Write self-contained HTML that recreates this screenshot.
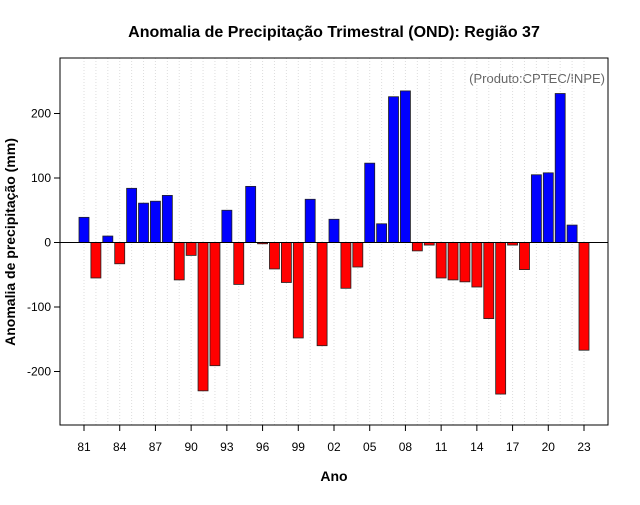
<!DOCTYPE html>
<html><head><meta charset="utf-8"><style>
body{margin:0;background:#fff;font-family:"Liberation Sans",sans-serif}
</style></head><body>
<svg id="c" width="640" height="500" font-family="Liberation Sans, sans-serif">
<text x="334" y="37" text-anchor="middle" font-size="16" font-weight="bold">Anomalia de Precipitação Trimestral (OND): Região 37</text>
<text x="334" y="481" text-anchor="middle" font-size="14" font-weight="bold">Ano</text>
<text transform="translate(15,242) rotate(-90)" text-anchor="middle" font-size="14" font-weight="bold">Anomalia de precipitação (mm)</text>
<text x="605" y="83" text-anchor="end" font-size="13" fill="#666">(Produto:CPTEC/INPE)</text>
<g id="grid"></g><g id="bars"></g><g id="axes"></g>
<rect x="60" y="58" width="548" height="367" fill="none" stroke="#000"/>
</svg>
<script>
const years=[];for(let y=1981;y<=2023;y++)years.push(y);
const values=[39,-55,10,-33,84,61,64,73,-58,-20,-230,-191,50,-65,87,-2,-41,-62,-148,67,-160,36,-71,-38,123,29,226,235,-13,-4,-55,-58,-61,-69,-118,-235,-4,-42,105,108,231,27,-167];
const yTicks=[-200,-100,0,100,200];
const xTickYears=[1981,1984,1987,1990,1993,1996,1999,2002,2005,2008,2011,2014,2017,2020,2023];
const NS='http://www.w3.org/2000/svg';
const xs=y=>84+(y-1981)*(500/42);
const ys=v=>242.5-v*0.645;
function mk(t,a,p){const e=document.createElementNS(NS,t);for(const k in a)e.setAttribute(k,a[k]);p.appendChild(e);return e;}
const g=document.getElementById('grid'),b=document.getElementById('bars'),ax=document.getElementById('axes');
years.forEach(y=>{const l=mk('line',{x1:xs(y),x2:xs(y),y1:58,y2:425,stroke:'#ddd','stroke-dasharray':'1,2'},g);

});
years.forEach((y,i)=>{const v=values[i];const t=Math.min(ys(v),ys(0));const h=Math.abs(ys(v)-ys(0));
const r=mk('rect',{x:xs(y)-5,y:t,width:10,height:Math.max(h,0.5),fill:v>=0?'#0000ff':'#ff0000',stroke:'#222','stroke-width':0.8},b);

});
const z=mk('line',{x1:60,x2:608,y1:ys(0),y2:ys(0),stroke:'#000'},ax);


yTicks.forEach(v=>{mk('line',{x1:54,x2:60,y1:ys(v),y2:ys(v),stroke:'#000'},ax);
const t=mk('text',{x:51,y:ys(v)+4,'text-anchor':'end','font-size':12},ax);t.textContent=v;

});
xTickYears.forEach(y=>{mk('line',{x1:xs(y),x2:xs(y),y1:425,y2:431,stroke:'#000'},ax);
const t=mk('text',{x:xs(y),y:451,'text-anchor':'middle','font-size':12},ax);t.textContent=String(y).slice(2);

});
</script>
</body></html>
